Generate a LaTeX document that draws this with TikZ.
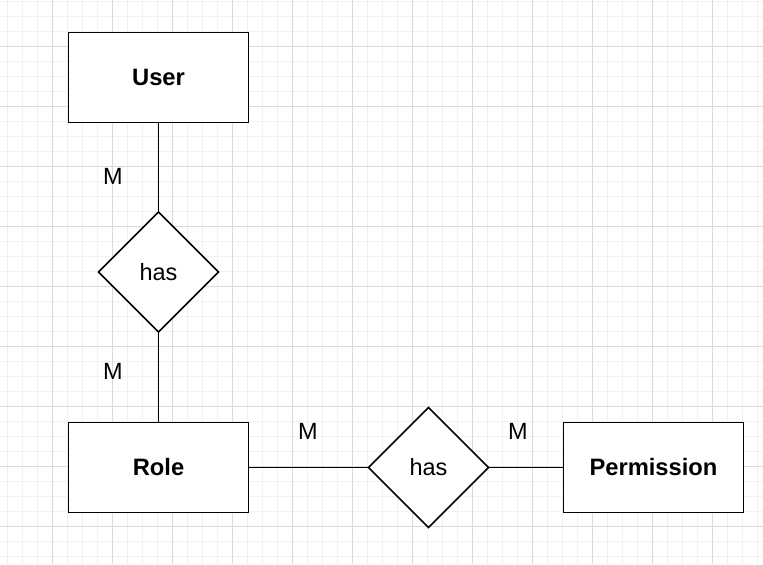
\documentclass[tikz,border=0pt]{standalone}
\usepackage{fontspec}
\setmainfont{Liberation Sans}
\usetikzlibrary{shapes.geometric}
\definecolor{gridminor}{HTML}{F1F1F1}
\definecolor{gridmajor}{HTML}{DADADA}
\tikzset{
  entity/.style={draw=black, fill=white, line width=1.1pt, rectangle, minimum width=135pt, minimum height=67.5pt, inner sep=0pt, outer sep=0pt, font=\fontsize{17.8}{20}\selectfont\bfseries},
  relation/.style={draw=black, fill=white, line width=1.1pt, diamond, minimum width=90pt, minimum height=90pt, aspect=1, inner sep=0pt, outer sep=0pt, font=\fontsize{17.6}{20}\selectfont},
  card/.style={font=\fontsize{17.6}{20}\selectfont, inner sep=0pt},
  link/.style={draw=black, line width=1.1pt},
}
\begin{document}
\begin{tikzpicture}[x=0.75pt, y=-0.75pt]
\useasboundingbox (0,0) rectangle (763,564);
\fill[white] (0,0) rectangle (763,564);
% grid
\foreach \gx in {7,22,...,763} \draw[gridminor, line width=0.75pt] (\gx,0) -- (\gx,564);
\foreach \gy in {1,16,...,564} \draw[gridminor, line width=0.75pt] (0,\gy) -- (763,\gy);
\foreach \gx in {52,112,...,763} \draw[gridmajor, line width=0.75pt] (\gx,0) -- (\gx,564);
\foreach \gy in {46,106,...,564} \draw[gridmajor, line width=0.75pt] (0,\gy) -- (763,\gy);
% nodes
\node[entity] (user) at (158.5,77.5) {User};
\node[entity] (role) at (158.5,467.5) {Role};
\node[entity] (perm) at (653.5,467.5) {Permission};
\node[relation] (has1) at (158.5,272) {has};
\node[relation] (has2) at (428.5,467.5) {has};
% connectors
\draw[link] (user.south) -- (has1.north);
\draw[link] (has1.south) -- (role.north);
\draw[link] (role.east) -- (has2.west);
\draw[link] (has2.east) -- (perm.west);
% cardinalities
\node[card] (m1) at (113,176) {M};
\node[card] (m2) at (113,371) {M};
\node[card] (m3) at (308,431) {M};
\node[card] (m4) at (518,431) {M};
\end{tikzpicture}
\end{document}
